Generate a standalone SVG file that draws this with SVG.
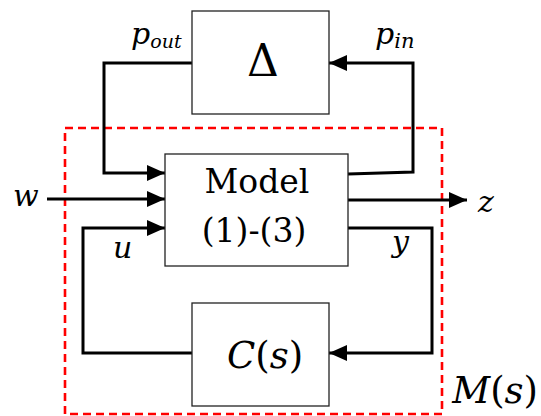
<svg xmlns="http://www.w3.org/2000/svg" width="541" height="416" viewBox="0 0 541 416">
<style>
.box{fill:#fff;stroke:#222;stroke-width:1.3}
.wire{fill:none;stroke:#000;stroke-width:3;stroke-linejoin:miter}
.t{fill:#000}
.i{font-style:italic}
.frame{fill:none;stroke:#ff0000;stroke-width:2.6;stroke-dasharray:8 5}
</style>
<defs>
<marker id="ah" markerUnits="userSpaceOnUse" markerWidth="18" markerHeight="16" refX="18" refY="8" orient="auto">
<path d="M0,0 L18,8 L0,16 Z" fill="#000"/>
</marker>
</defs>
<g font-family="'DejaVu Serif', serif">
<g id="frame-M">
<rect class="frame" x="65" y="128" width="377" height="286"/>
<text class="t" x="538" y="403" font-size="37" text-anchor="end"><tspan class="i">M</tspan>(<tspan class="i">s</tspan>)</text>
</g>
<g id="connectors">
<path class="wire" d="M192,63 H104 V173 H165" marker-end="url(#ah)"/>
<path class="wire" d="M47,199 H165" marker-end="url(#ah)"/>
<path class="wire" d="M192,353 H83 V228 H165" marker-end="url(#ah)"/>
<path class="wire" d="M348,174 L413,172 V63 H329" marker-end="url(#ah)"/>
<path class="wire" d="M348,200 H467" marker-end="url(#ah)"/>
<path class="wire" d="M348,228 H432 V353 H329" marker-end="url(#ah)"/>
</g>
<g id="node-delta">
<rect class="box" x="192" y="11" width="137" height="103"/>
<text class="t" x="263" y="76" font-size="44" text-anchor="middle">Δ</text>
</g>
<g id="node-model">
<rect class="box" x="165" y="154" width="183" height="112"/>
<text class="t" x="257" y="193" font-size="33" text-anchor="middle">Model</text>
<text class="t" x="254" y="242" font-size="33" text-anchor="middle">(1)-(3)</text>
</g>
<g id="node-controller">
<rect class="box" x="192" y="303" width="137" height="103"/>
<text class="t" x="227" y="368" font-size="37"><tspan class="i">C</tspan>(<tspan class="i">s</tspan>)</text>
</g>
<g id="labels">
<text class="t i" x="131" y="44" font-size="30">p<tspan font-size="19" dy="4">out</tspan></text>
<text class="t i" x="375" y="44" font-size="30">p<tspan font-size="21" dy="4">in</tspan></text>
<text class="t i" x="13" y="206" font-size="30">w</text>
<text class="t i" x="478" y="212" font-size="30">z</text>
<text class="t i" x="113" y="258" font-size="30">u</text>
<text class="t i" x="392" y="252" font-size="30">y</text>
</g>
</g>
</svg>
